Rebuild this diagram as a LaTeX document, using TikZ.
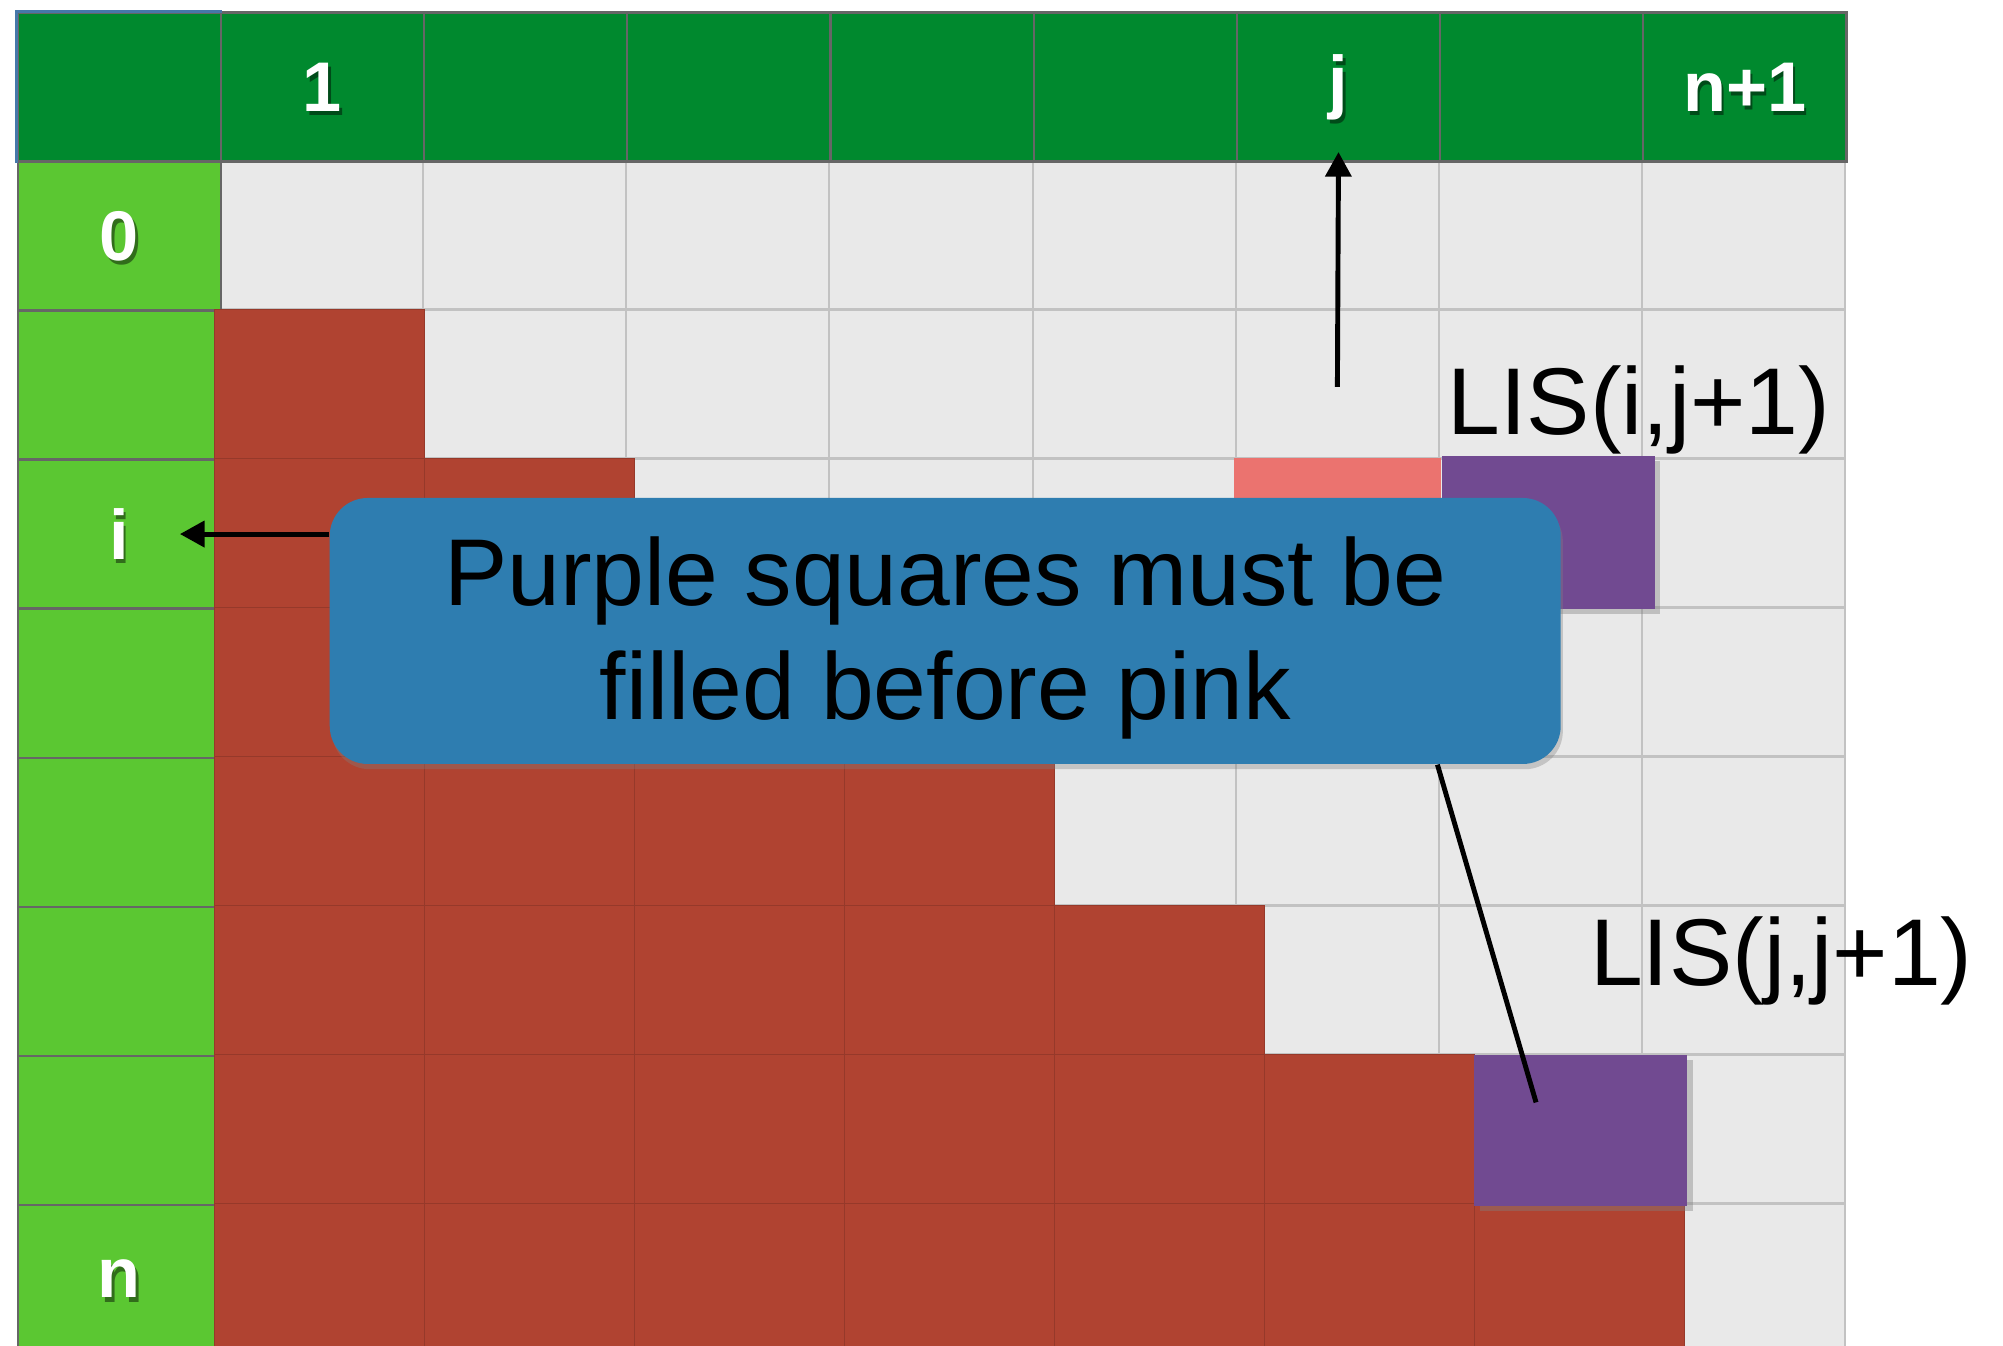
\documentclass[tikz,border=0pt]{standalone}
\usepackage{fontspec}
\setmainfont{Liberation Sans}
\usetikzlibrary{arrows.meta, positioning, shadows}

\definecolor{hdrgreen}{RGB}{0,137,46}
\definecolor{rowgreen}{RGB}{91,199,50}
\definecolor{cellgrey}{RGB}{233,233,233}
\definecolor{gridline}{RGB}{194,194,194}
\definecolor{edgegrey}{RGB}{102,102,102}
\definecolor{tilered}{RGB}{176,67,49}
\definecolor{tilepink}{RGB}{235,115,111}
\definecolor{tilepurple}{RGB}{113,74,145}
\definecolor{noteblue}{RGB}{46,125,176}
\definecolor{cornerblue}{RGB}{70,120,170}

\begin{document}
\begin{tikzpicture}
  \useasboundingbox (0,0) rectangle (20.03,-13.46);
  \clip (0,0) rectangle (20.03,-13.46);
  \begin{scope}[shift={(0.166,-0.115)}, x=2.032cm, y=-1.49cm]
    \tikzset{
      hdr/.style={rectangle, draw=edgegrey, line width=0.6pt, fill=hdrgreen,
        minimum width=2.032cm, minimum height=1.49cm, anchor=north west, inner sep=0pt},
      side/.style={hdr, fill=rowgreen},
      body/.style={draw=gridline, line width=0.6pt, fill=cellgrey},
      tile/.style={fill=tilered, draw=tilered!85!black, line width=0.3pt},
      marker/.style={rectangle, anchor=north west, inner sep=0pt},
      numtxt/.style={text=white, font=\fontsize{20}{24}\selectfont\bfseries},
      numshadow/.style={numtxt, text=black, opacity=0.45},
      note/.style={rectangle, rounded corners=0.38cm, fill=noteblue, align=center,
        minimum width=12.31cm, minimum height=2.66cm, inner sep=0pt,
        font=\fontsize{27}{32.2}\selectfont,
        drop shadow={opacity=0.35, shadow xshift=0.6pt, shadow yshift=-1.5pt}},
      lis/.style={inner sep=0pt, anchor=base west, font=\fontsize{27}{32}\selectfont},
      arrow/.style={line width=1.4pt, -{Triangle[length=7pt, width=7.3pt]}},
      link/.style={line width=1.4pt}
    }

    % table body
    \foreach \c in {1,...,8}
      \foreach \r in {1,...,8}
        \draw[body] (\c,\r) rectangle ++(1,1);

    % header row and index column
    \foreach \c in {0,...,8}
      \node[hdr] (h\c) at (\c,0) {};
    \foreach \r in {1,...,8}
      \node[side] (r\r) at (0,\r) {};
    \draw[cornerblue, line width=0.8pt] (h0.south west) -- (h0.north west) -- (h0.north east);

    % filled entries
    \foreach \r in {2,...,8}{
      \pgfmathtruncatemacro{\last}{\r-1}
      \foreach \k in {1,...,\last}
        \draw[tile] ({0.974+1.0335*(\k-1)},\r) rectangle ++(1.0335,1);
    }
    \node[marker, fill=tilepink, minimum width=2.07cm, minimum height=1.49cm] (pk) at (5.99,2.99) {};
    \node[marker, fill=tilepurple, minimum width=2.13cm, minimum height=1.53cm,
      drop shadow={opacity=0.4, shadow xshift=1.5pt, shadow yshift=-1.5pt}] (pp1) at (7.01,2.98) {};
    \node[marker, fill=tilepurple, minimum width=2.13cm, minimum height=1.51cm,
      drop shadow={opacity=0.4, shadow xshift=1.5pt, shadow yshift=-1.5pt}] (pp2) at (7.17,7.0) {};

    \node[lis] (lisij) at (7.04,2.836) {LIS(i,j+1)};
    \node[lis] (lisjj) at (7.74,6.54) {LIS(j,j+1)};

    \node[note] (note) at (4.57,4.1575) {\rule{0pt}{23.5pt}Purple squares must be\\filled before pink};

    % indices
    \foreach \c/\t in {1/1, 6/j, 8/n+1}{
      \node[numshadow] at ([xshift=0.7pt, yshift=-1.2pt]h\c.center) {\t};
      \node[numtxt] (t\c) at (h\c.center) {\t};
    }
    \foreach \r/\t in {1/0, 3/i, 8/n}{
      \node[numshadow] at ([xshift=0.7pt, yshift=-1.2pt]r\r.center) {\t};
      \node[numtxt] (s\r) at (r\r.center) {\t};
    }

    \coordinate (jfoot) at (6.5,2.52);
    \draw[arrow, shorten >=-3pt] (jfoot) -- (h6.south);
    \draw[arrow] (note.west |- r3) -- ([xshift=-0.42cm]r3.east);
    \draw[link] ([xshift=-1.24cm]note.south east) -- ([shift={(-0.22,-0.19)}]pp2.center);
  \end{scope}
\end{tikzpicture}
\end{document}
